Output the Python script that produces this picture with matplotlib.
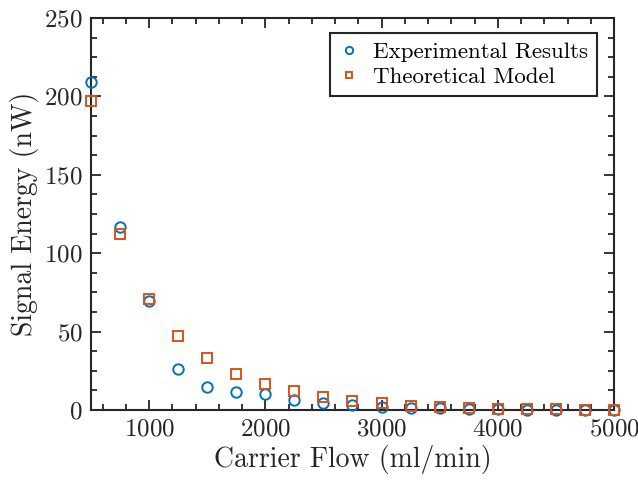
import numpy as np
import matplotlib
matplotlib.use("Agg")
import matplotlib.pyplot as plt
from matplotlib.ticker import MultipleLocator

# carrier flow (ml/min) and signal energy (nW)
flow = [500, 750, 1000, 1250, 1500, 1750, 2000, 2250, 2500, 2750,
        3000, 3250, 3500, 3750, 4000, 4250, 4500, 4750, 5000]
experimental = [209, 117, 69.5, 26, 14.5, 11.5, 10.5, 6.5, 4.5, 3,
                1.7, 1.5, 1.4, 0.8, 0.5, 0.3, 0.3, 0.2, 0.2]
theoretical = [197, 112.5, 71, 47.5, 33, 23, 16.5, 12, 8.5, 5.8,
               4.5, 2.8, 2.0, 1.4, 0.8, 0.6, 0.5, 0.3, 0.3]

blue = "#0072BD"
orange = "#D95319"

plt.rcParams["font.family"] = "serif"
plt.rcParams["font.serif"] = ["cmr10", "DejaVu Serif"]
plt.rcParams["mathtext.fontset"] = "cm"
plt.rcParams["axes.formatter.use_mathtext"] = True

fig = plt.figure(figsize=(6.38, 4.84), dpi=100)
ax = fig.add_axes([0.1426, 0.1529, 0.8198, 0.8099])

ax.plot(flow, experimental, "o", ms=7.5, mfc="none", mec=blue, mew=1.4,
        label="Experimental Results", clip_on=False, zorder=3)
ax.plot(flow, theoretical, "s", ms=6.5, mfc="none", mec=orange, mew=1.4,
        label="Theoretical Model", clip_on=False, zorder=3)

ax.set_xlim(500, 5000)
ax.set_ylim(0, 250)
ax.xaxis.set_major_locator(MultipleLocator(1000))
ax.xaxis.set_minor_locator(MultipleLocator(200))
ax.yaxis.set_major_locator(MultipleLocator(50))
ax.yaxis.set_minor_locator(MultipleLocator(12.5))
ax.tick_params(which="both", direction="in", top=True, right=True,
               width=1.3, color="#262626", labelsize=18, labelcolor="#262626")
ax.tick_params(which="major", length=7, pad=6)
ax.tick_params(which="minor", length=4)
for s in ax.spines.values():
    s.set_linewidth(1.5)
    s.set_color("#262626")

ax.set_xlabel("Carrier Flow (ml/min)", fontsize=20, color="#262626", labelpad=3)
ax.set_ylabel("Signal Energy (nW)", fontsize=20, color="#262626", labelpad=4)

leg = ax.legend(loc="upper right", fontsize=16.5, fancybox=False, framealpha=1,
                edgecolor="#262626", handlelength=0.8, handletextpad=0.65,
                borderpad=0.4, labelspacing=0.2, markerscale=0.7,
                borderaxespad=0, bbox_to_anchor=(0.9675, 0.962))
leg.get_frame().set_linewidth(1.5)

fig.savefig("out.png", dpi=100)
